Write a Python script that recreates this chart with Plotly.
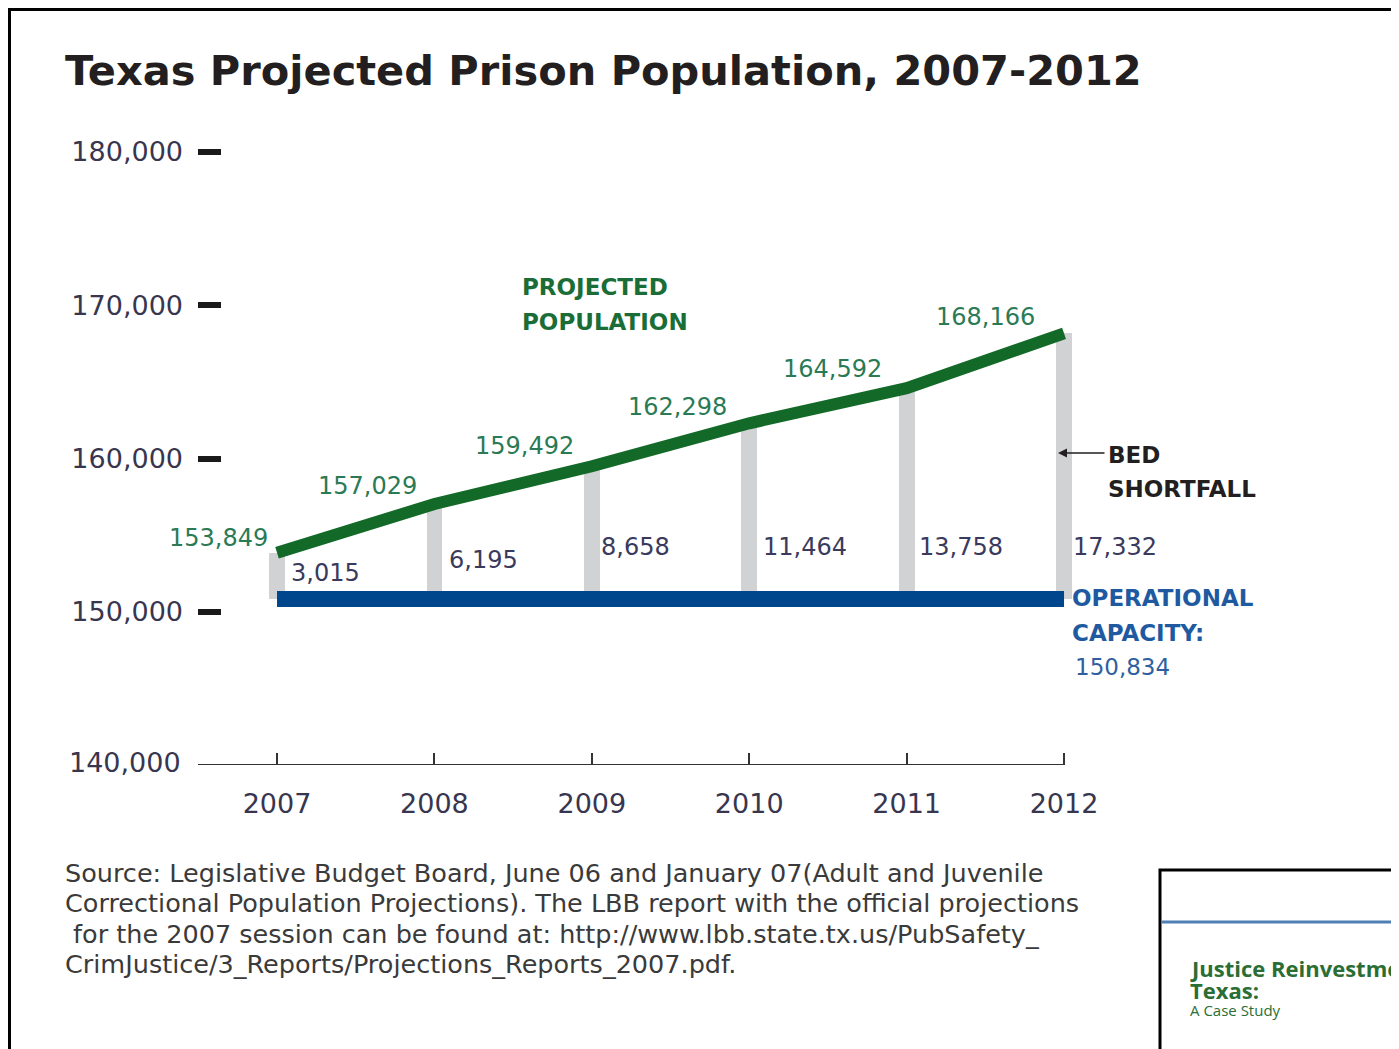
import plotly.graph_objects as go

# ---------------- data ----------------
years = [2007, 2008, 2009, 2010, 2011, 2012]
year_labels = ["2007", "2008", "2009", "2010", "2011", "2012"]
projected_population = [153849, 157029, 159492, 162298, 164592, 168166]
bed_shortfall = [3015, 6195, 8658, 11464, 13758, 17332]
operational_capacity = 150834
y_tick_values = [150000, 160000, 170000, 180000]
y_tick_labels = ["150,000", "160,000", "170,000", "180,000"]
y_axis_floor = 140000
y_axis_floor_label = "140,000"
source_lines = [
    "Source: Legislative Budget Board, June 06 and January 07(Adult and Juvenile",
    "Correctional Population Projections). The LBB report with the official projections",
    "\u00a0for the 2007 session can be found at: http://www.lbb.state.tx.us/PubSafety_",
    "CrimJustice/3_Reports/Projections_Reports_2007.pdf.",
]

# ---------------- layout geometry (pixels) ----------------
FIG_W, FIG_H = 1399, 1049
OFF = 8  # page body margin in the browser
L, R, T, B = 198 - OFF, 1280 - OFF, 130 - OFF, 765 - OFF
W, H = R - L, B - T


def xp(px):
    return (px - OFF - L) / W


def yp(py):
    return (B - (py - OFF)) / H


x_range = [2006.498, 2013.372]
y_range = [140000, 181436]

GREEN = "#136a28"
BLUE = "#00468c"
GREY = "#d1d2d4"
NUM_FONT = "DejaVu Sans"
TXT_FONT = "Open Sans"

fig = go.Figure()

# grey shortfall bars (from capacity up to population)
fig.add_trace(go.Bar(
    x=years, y=bed_shortfall, base=operational_capacity,
    width=0.1, marker=dict(color=GREY, line=dict(width=0)),
    hoverinfo="skip", showlegend=False,
))

# operational capacity line
fig.add_trace(go.Scatter(
    x=[years[0], years[-1]], y=[operational_capacity, operational_capacity],
    mode="lines", line=dict(color=BLUE, width=16),
    hoverinfo="skip", showlegend=False,
))

# projected population line
fig.add_trace(go.Scatter(
    x=years, y=projected_population, mode="lines",
    line=dict(color=GREEN, width=12),
    hoverinfo="skip", showlegend=False,
))

annotations = []

# population value labels
pop_dx = [-59, -67, -67, -72, -74, -79]
pop_dy = [15, 18, 20, 16, 19, 16]
for i, (yr, v) in enumerate(zip(years, projected_population)):
    annotations.append(dict(
        x=yr, y=v, xref="x", yref="y", text=f"{v:,}", showarrow=False,
        xanchor="center", yanchor="middle", xshift=pop_dx[i], yshift=pop_dy[i],
        font=dict(family=NUM_FONT, size=24, color="#2a7a55"),
    ))

# shortfall value labels
sf_dx = [12, 13, 7, 12, 10, 7]
sf_dy = [26, 39, 52, 52, 52, 52]
for i, (yr, v) in enumerate(zip(years, bed_shortfall)):
    annotations.append(dict(
        x=yr, y=operational_capacity, xref="x", yref="y", text=f"{v:,}",
        showarrow=False, xanchor="left", yanchor="middle",
        xshift=sf_dx[i], yshift=sf_dy[i],
        font=dict(family=NUM_FONT, size=24, color="#3a3a5c"),
    ))


def txt(x, y, text, size, color, family=NUM_FONT, weight="normal", xanchor="left"):
    annotations.append(dict(
        x=xp(x), y=yp(y), xref="paper", yref="paper", text=text,
        showarrow=False, xanchor=xanchor, yanchor="middle",
        font=dict(family=family, size=size, color=color, weight=weight),
    ))


# y-axis floor label
txt(183, 762, y_axis_floor_label, 27, "#38364f", xanchor="right")

# series labels
txt(520, 287, "PROJECTED", 23, "#1b6d37", weight="bold")
txt(520, 322, "POPULATION", 23, "#1b6d37", weight="bold")
txt(1106, 455, "BED", 23, "#231f20", weight="bold")
txt(1106, 489, "SHORTFALL", 23, "#231f20", weight="bold")
txt(1070, 598, "OPERATIONAL", 23, "#1f5aa0", weight="bold")
txt(1070, 633, "CAPACITY:", 23, "#1f5aa0", weight="bold")
txt(1073, 667, f"{operational_capacity:,}", 23, "#2f5f9f")

# arrow to the bed shortfall bar
annotations.append(dict(
    x=xp(1058), y=yp(453), xref="paper", yref="paper", text="",
    showarrow=True, ax=48, ay=0, arrowhead=2, arrowsize=1.2,
    arrowwidth=1.5, arrowcolor="#231f20",
))

# source note, one line per annotation
for i, line in enumerate(source_lines):
    txt(63, 873 + 30.3 * i, line, 25.5, "#3a3a3a")

# page corner box text
txt(1188, 968, "Justice Reinvestment in", 22, "#2a6e35", family=TXT_FONT, weight="bold")
txt(1188, 990, "Texas:", 22, "#2a6e35", family=TXT_FONT, weight="bold")
txt(1188, 1010, "A Case Study", 15, "#2a6e35", family=TXT_FONT)

shapes = [
    # x-axis baseline
    dict(type="line", xref="x", yref="y", x0=x_range[0], x1=years[-1],
         y0=y_axis_floor, y1=y_axis_floor, line=dict(color="#333333", width=2)),
    # page frame
    dict(type="line", xref="paper", yref="paper", x0=xp(9.5), x1=xp(9.5),
         y0=yp(1070), y1=yp(8), line=dict(color="black", width=3)),
    dict(type="line", xref="paper", yref="paper", x0=xp(8), x1=xp(1420),
         y0=yp(9.5), y1=yp(9.5), line=dict(color="black", width=3)),
    # corner box
    dict(type="rect", xref="paper", yref="paper", x0=xp(1160), x1=xp(1430),
         y0=yp(1070), y1=yp(870), line=dict(color="black", width=3)),
    dict(type="line", xref="paper", yref="paper", x0=xp(1161), x1=xp(1420),
         y0=yp(922), y1=yp(922), line=dict(color="#4f7fb5", width=3)),
]

fig.update_layout(
    width=FIG_W, height=FIG_H,
    margin=dict(l=L, r=FIG_W - R, t=T, b=FIG_H - B),
    paper_bgcolor="white", plot_bgcolor="white",
    title=dict(
        text="<b>Texas Projected Prison Population, 2007-2012</b>",
        x=(65 - OFF) / FIG_W, xanchor="left", y=1 - (70 - OFF) / FIG_H, yanchor="middle",
        font=dict(family=NUM_FONT, size=41.5, color="#231f20"),
    ),
    xaxis=dict(
        range=x_range, tickvals=years, ticktext=year_labels,
        showgrid=False, zeroline=False, showline=False,
        ticks="inside", ticklen=12, tickwidth=2, tickcolor="#333333",
        ticklabelstandoff=20,
        tickfont=dict(family=NUM_FONT, size=27, color="#38364f"),
    ),
    yaxis=dict(
        range=y_range, tickvals=y_tick_values, ticktext=y_tick_labels,
        showgrid=False, zeroline=False, showline=False,
        ticks="inside", ticklen=23, tickwidth=6, tickcolor="#1a1a1a",
        ticklabelstandoff=14,
        tickfont=dict(family=NUM_FONT, size=27, color="#38364f"),
    ),
    annotations=annotations, shapes=shapes,
    showlegend=False, bargap=0,
)

fig.write_html("out.html")
